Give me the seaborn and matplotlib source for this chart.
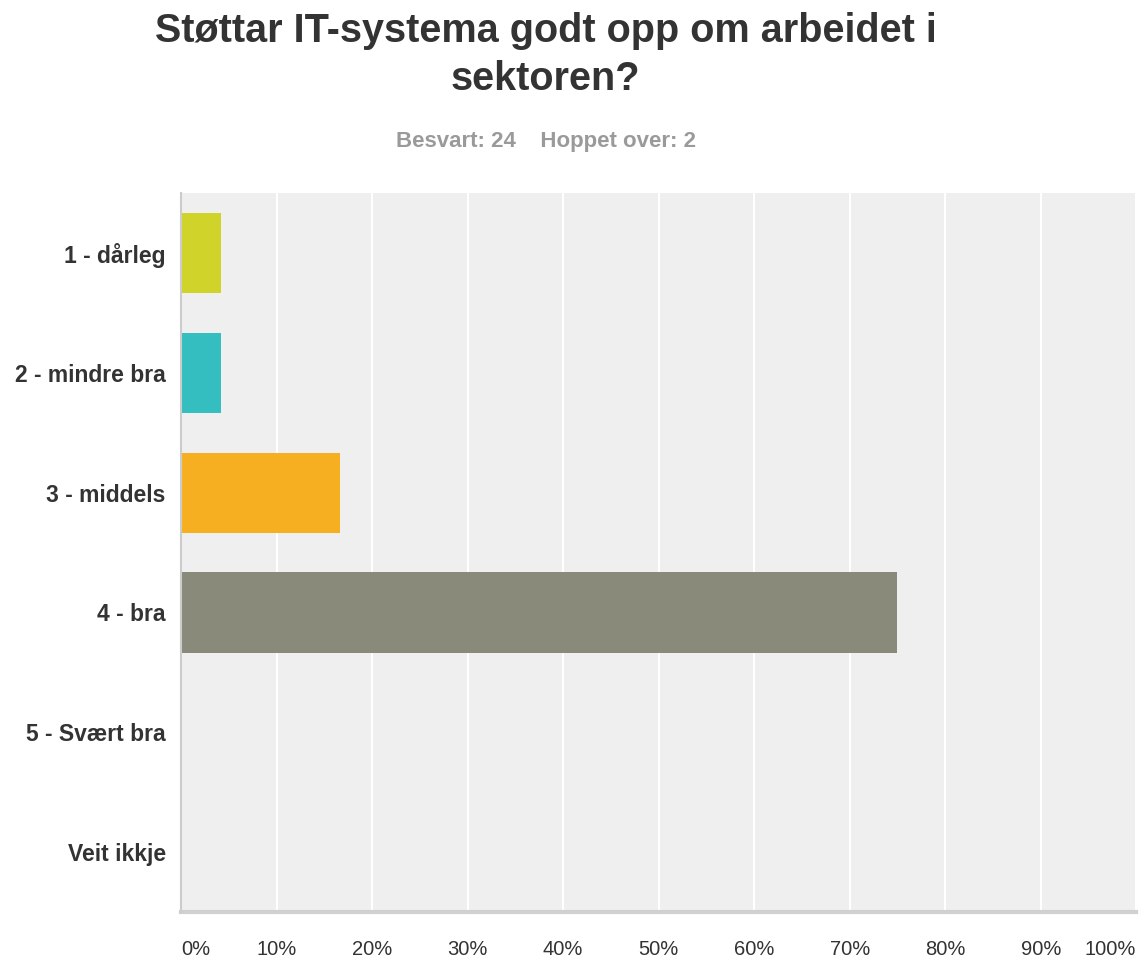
import pandas as pd
import seaborn as sns
import matplotlib.pyplot as plt

categories = ['1 - dårleg', '2 - mindre bra', '3 - middels', '4 - bra', '5 - Svært bra', 'Veit ikkje']
percent = [4.17, 4.17, 16.67, 75.0, 0.0, 0.0]
colors = ['#d0d42a', '#34bec0', '#f6af20', '#8a8a7b', '#5ba4d6', '#a8a8a8']
tick_vals = [0, 10, 20, 30, 40, 50, 60, 70, 80, 90, 100]
tick_labels = [f'{v}%' for v in tick_vals]

df = pd.DataFrame({'svar': categories, 'prosent': percent})

sns.set_style('white')
plt.rcParams['font.family'] = ['Liberation Sans', 'DejaVu Sans']

fig = plt.figure(figsize=(11.44, 9.61), dpi=100)
ax = fig.add_axes([0.1582, 0.051, 0.835, 0.748])
ax.set_facecolor('#efefef')

sns.barplot(data=df, y='svar', x='prosent', hue='svar', palette=colors,
            order=categories, hue_order=categories, orient='h',
            width=0.67, saturation=1, linewidth=0, legend=False, ax=ax, zorder=3)

ax.set_xlim(0, 100)
ax.set_ylim(5.5, -0.5)
ax.set_xticks(tick_vals)
ax.set_xticklabels(tick_labels, fontsize=14.5, color='#333333')
ax.get_xticklabels()[0].set_ha('left')
ax.get_xticklabels()[-1].set_ha('right')
ax.tick_params(axis='x', length=0, pad=20)
ax.tick_params(axis='y', length=0, pad=11)
for lbl in ax.get_yticklabels():
    lbl.set_fontweight('bold')
    lbl.set_fontsize(16.5)
    lbl.set_color('#333333')

ax.grid(axis='x', color='white', linewidth=1.5, zorder=0)
ax.set_axisbelow(True)
for s in ['top', 'right']:
    ax.spines[s].set_visible(False)
ax.spines['left'].set_color('#cccccc')
ax.spines['left'].set_linewidth(1.5)
ax.spines['left'].set_zorder(5)
ax.spines['bottom'].set_color('#d0d0d0')
ax.spines['bottom'].set_linewidth(3)
ax.set_xlabel('')
ax.set_ylabel('')

fig.text(0.477, 0.988, 'Støttar IT-systema godt opp om arbeidet i\nsektoren?',
         ha='center', va='top', fontsize=28.5, fontweight='bold', color='#333333',
         linespacing=1.35)
fig.text(0.477, 0.853, 'Besvart: 24    Hoppet over: 2', ha='center', va='center',
         fontsize=16, fontweight='bold', color='#9a9a9a')

fig.savefig('out.png', dpi=100)
